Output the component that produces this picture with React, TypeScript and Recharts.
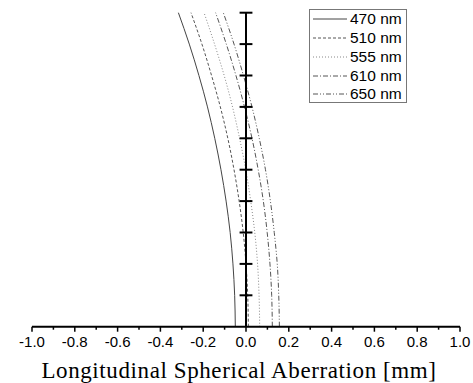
import React from "react";
import { LineChart, Line, XAxis, YAxis, ReferenceLine, Label } from "recharts";

// normalized pupil height (vertical axis, no labels)
const PUPIL = [0, 0.1, 0.2, 0.3, 0.4, 0.5, 0.6, 0.7, 0.8, 0.9, 1.0];

// longitudinal aberration in mm
const W470 = [-0.05, -0.053, -0.061, -0.074, -0.093, -0.117, -0.146, -0.18, -0.22, -0.265, -0.316];
const W510 = [0.011, 0.008, 0.0, -0.013, -0.032, -0.056, -0.085, -0.12, -0.161, -0.206, -0.257];
const W555 = [0.064, 0.061, 0.054, 0.041, 0.022, -0.001, -0.03, -0.063, -0.102, -0.147, -0.196];
const W610 = [0.123, 0.12, 0.112, 0.099, 0.081, 0.057, 0.028, -0.007, -0.047, -0.092, -0.142];
const W650 = [0.156, 0.153, 0.146, 0.132, 0.114, 0.091, 0.062, 0.028, -0.012, -0.056, -0.106];

const X_TICKS = [-1, -0.9, -0.8, -0.7, -0.6, -0.5, -0.4, -0.3, -0.2, -0.1, 0, 0.1, 0.2, 0.3, 0.4, 0.5, 0.6, 0.7, 0.8, 0.9, 1];
const Y_TICKS = [0.1, 0.2, 0.3, 0.4, 0.5, 0.6, 0.7, 0.8, 0.9, 1.0];

const SERIES = [
  { key: "w470", name: "470 nm", values: W470, color: "#444", dash: undefined },
  { key: "w510", name: "510 nm", values: W510, color: "#555", dash: "3 2" },
  { key: "w555", name: "555 nm", values: W555, color: "#888", dash: "1 2" },
  { key: "w610", name: "610 nm", values: W610, color: "#555", dash: "5 2 1 2" },
  { key: "w650", name: "650 nm", values: W650, color: "#555", dash: "5 2 1 2 1 2" },
];

const data = PUPIL.map((p, i) => {
  const row: Record<string, number> = { p };
  SERIES.forEach((s) => (row[s.key] = s.values[i]));
  return row;
});

const SANS = "'Liberation Sans', Arial, sans-serif";
const SERIF = "'Liberation Serif', 'Times New Roman', serif";

function XTick(props: any) {
  const { x, y, payload } = props;
  const tenths = Math.round(payload.value * 10);
  const major = tenths % 2 === 0;
  return (
    <g>
      <line x1={x} x2={x} y1={y} y2={y + (major ? 5 : 3)} stroke="#000" strokeWidth={1.5} />
      {major && (
        <text x={x} y={y + 20.5} textAnchor="middle" fontFamily={SANS} fontSize={15} fill="#000">
          {payload.value.toFixed(1)}
        </text>
      )}
    </g>
  );
}

function LegendBox() {
  return (
    <div
      style={{
        position: "absolute",
        left: 309,
        top: 9,
        width: 96,
        height: 92,
        border: "1px solid #777",
        background: "#fff",
      }}
    >
      {SERIES.map((s) => (
        <div key={s.key} style={{ display: "flex", alignItems: "center", height: 18.75 }}>
          <svg width={40} height={6} style={{ display: "block" }}>
            <line x1={3} x2={37} y1={3} y2={3} stroke={s.color} strokeWidth={1} strokeDasharray={s.dash} />
          </svg>
          <span style={{ fontFamily: SANS, fontSize: 15.5, color: "#000", lineHeight: "18px" }}>{s.name}</span>
        </div>
      ))}
    </div>
  );
}

export default function App() {
  return (
    <div style={{ position: "absolute", left: 0, top: 0, width: 473, height: 383, background: "#fff" }}>
      <LineChart
        width={473}
        height={383}
        data={data}
        layout="vertical"
        margin={{ top: 12.7, right: 13, bottom: 0, left: 32 }}
      >
        <XAxis
          type="number"
          domain={[-1, 1]}
          ticks={X_TICKS}
          interval={0}
          tickSize={0}
          tickMargin={0}
          tick={<XTick />}
          axisLine={{ stroke: "#000", strokeWidth: 2 }}
          height={56.3}
        >
          <Label
            value="Longitudinal Spherical Aberration [mm]"
            position="insideBottom"
            offset={5.5}
            dx={-7}
            style={{ fontFamily: SERIF, fontSize: 23, letterSpacing: 0.6, fill: "#000" }}
          />
        </XAxis>
        <YAxis type="number" dataKey="p" domain={[0, 1]} reversed hide />
        {SERIES.map((s) => (
          <Line
            key={s.key}
            dataKey={s.key}
            name={s.name}
            type="monotone"
            stroke={s.color}
            strokeWidth={1}
            strokeDasharray={s.dash}
            dot={false}
            activeDot={false}
            isAnimationActive={false}
          />
        ))}
        <ReferenceLine
          segment={[
            { x: 0, y: 0 },
            { x: 0, y: 1 },
          ]}
          stroke="#000"
          strokeWidth={2}
        />
        {Y_TICKS.map((t) => (
          <ReferenceLine
            key={t}
            segment={[
              { x: -0.03, y: t },
              { x: 0.03, y: t },
            ]}
            stroke="#000"
            strokeWidth={2}
          />
        ))}
      </LineChart>
      <LegendBox />
    </div>
  );
}
